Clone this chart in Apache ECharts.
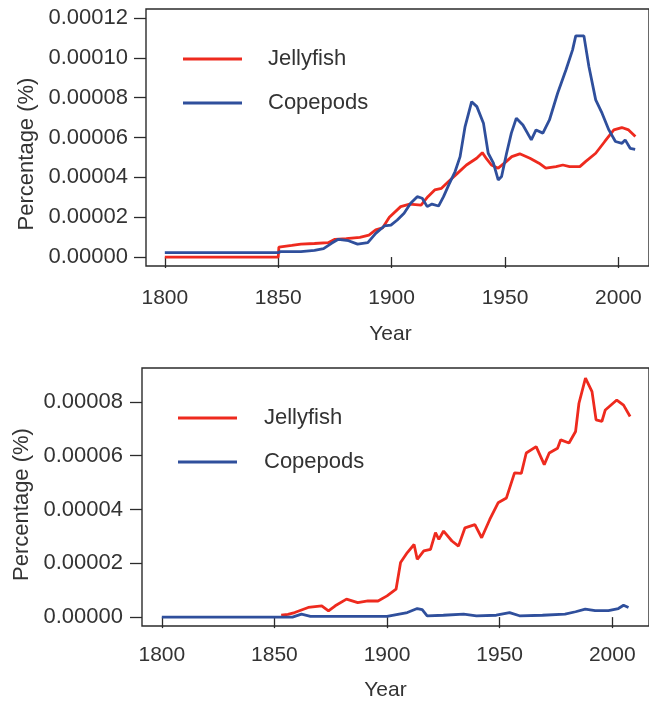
<!DOCTYPE html>
<html>
<head>
<meta charset="utf-8">
<script src="https://cdn.jsdelivr.net/npm/echarts@6/dist/echarts.min.js"></script>
<style>
html,body{margin:0;padding:0;background:#fff;}
#chart{width:649px;height:702px;}
</style>
</head>
<body>
<div id="chart"></div>
<script>
// ---- Data ----
var seriesNames = ['Jellyfish', 'Copepods'];
var xTicks = [1800, 1850, 1900, 1950, 2000];
var yTicksTop = [0, 0.00002, 0.00004, 0.00006, 0.00008, 0.00010, 0.00012];
var yTicksBottom = [0, 0.00002, 0.00004, 0.00006, 0.00008];

// Top panel: [year, percentage]
var topJellyfish = [
  [1800,0],[1850,0],[1850.3,0.000005],[1856,0.0000058],[1860,0.0000065],[1866,0.0000068],
  [1872,0.0000072],[1875,0.0000089],[1880,0.0000092],[1886,0.0000099],[1890,0.000011],
  [1893,0.0000136],[1896,0.0000146],[1899,0.00002],[1904,0.0000253],[1908,0.0000266],
  [1913,0.0000261],[1916,0.0000303],[1919,0.0000337],[1922,0.0000345],[1925,0.0000378],
  [1929,0.000042],[1933,0.0000462],[1937.5,0.0000496],[1940,0.0000524],[1942,0.0000491],
  [1944,0.0000462],[1947,0.0000446],[1950,0.0000474],[1953,0.0000504],[1956.5,0.0000518],
  [1961,0.0000496],[1965,0.0000471],[1968,0.0000446],[1972.5,0.0000454],[1975.5,0.0000462],
  [1978.5,0.0000454],[1983,0.0000454],[1985.5,0.0000479],[1990,0.0000521],[1994,0.000058],
  [1998,0.0000638],[2001.5,0.000065],[2004.5,0.0000638],[2007.5,0.0000605]
];
var topCopepods = [
  [1800,0.0000022],[1850,0.0000022],[1851,0.0000027],[1860,0.0000027],[1866,0.0000033],
  [1870,0.0000042],[1873.5,0.0000069],[1876.5,0.0000089],[1881,0.0000082],[1885,0.0000065],
  [1889.5,0.0000072],[1893,0.0000119],[1896.8,0.0000156],[1899.7,0.000016],[1902.5,0.0000186],
  [1905.5,0.000022],[1908.4,0.000027],[1911.3,0.0000303],[1913.5,0.0000295],[1915.7,0.0000253],
  [1917.8,0.0000266],[1920.7,0.0000256],[1922.9,0.0000303],[1925.2,0.0000362],[1928,0.0000429],
  [1930.2,0.0000504],[1932.4,0.0000655],[1935.3,0.000078],[1937.6,0.0000755],[1940.5,0.0000672],
  [1942.6,0.0000521],[1944.9,0.0000471],[1947,0.0000387],[1948.5,0.0000404],[1950.7,0.0000521],
  [1952.8,0.0000622],[1955,0.0000697],[1957.9,0.0000663],[1961.6,0.0000588],[1963.7,0.0000638],
  [1966.7,0.0000622],[1969.6,0.0000688],[1973.2,0.0000822],[1976.9,0.000094],[1979.8,0.000104],
  [1981.2,0.000111],[1984.8,0.000111],[1987,0.0000956],[1990,0.0000789],[1992.8,0.0000722],
  [1995.8,0.0000638],[1998.7,0.000058],[2001.6,0.0000571],[2003,0.0000588],[2005.2,0.0000546],
  [2007.4,0.0000541]
];

// Bottom panel: [year, percentage]
var bottomJellyfish = [
  [1853,0.0000007],[1856,0.000001],[1859,0.0000017],[1865,0.0000036],[1871,0.0000042],
  [1874,0.0000023],[1877,0.0000042],[1882,0.0000067],[1887,0.0000054],[1891.5,0.000006],
  [1896,0.000006],[1900,0.0000079],[1904,0.0000104],[1906,0.0000203],[1909,0.000024],
  [1912,0.000027],[1913.4,0.0000215],[1916.3,0.0000246],[1919.3,0.0000252],[1921.5,0.0000314],
  [1923,0.0000289],[1925.1,0.000032],[1928.8,0.0000283],[1931.7,0.0000264],[1934.6,0.0000332],
  [1939,0.0000344],[1942,0.0000295],[1945.6,0.0000363],[1949.3,0.0000425],[1953,0.0000443],
  [1956.6,0.0000536],[1959.6,0.0000534],[1961.8,0.000061],[1966.2,0.0000634],[1969.8,0.0000567],
  [1972,0.000061],[1975.7,0.0000628],[1977.1,0.0000659],[1980.8,0.0000647],[1983.7,0.000069],
  [1985.2,0.0000795],[1988.1,0.0000888],[1991,0.0000838],[1992.8,0.0000733],[1995.4,0.0000728],
  [1996.9,0.000077],[2002,0.0000807],[2005,0.0000788],[2007.9,0.0000746]
];
var bottomCopepods = [
  [1800,0],[1858,0],[1862,0.0000011],[1866,0.0000003],[1900,0.0000003],[1909,0.0000017],
  [1913.4,0.0000032],[1915.6,0.0000028],[1917.8,0.0000005],[1925,0.0000007],[1934,0.0000011],
  [1939.7,0.0000005],[1948.5,0.0000007],[1954.4,0.0000017],[1958.8,0.0000005],[1969,0.0000007],
  [1979,0.0000011],[1983.7,0.000002],[1988,0.000003],[1992.4,0.0000024],[1998.3,0.0000024],
  [2002.7,0.0000032],[2005,0.0000044],[2007.2,0.0000036]
];

// ---- Chart ----
var RED = '#ee2a1e';
var BLUE = '#2f4f9c';
var TXT = '#333333';
var FONT = '"Liberation Sans", Arial, Helvetica, sans-serif';

function xAxisFor(gridIndex, min, max, labelMargin, nameGap, namePadRight) {
  return {
    type: 'value', gridIndex: gridIndex, min: min, max: max,
    name: 'Year', nameLocation: 'middle', nameGap: nameGap,
    nameTextStyle: { fontFamily: FONT, fontSize: 21, color: TXT, padding: [0, namePadRight, 0, 0] },
    axisLine: { show: false },
    axisTick: { show: true, inside: false, length: 11, customValues: xTicks,
      lineStyle: { color: '#2b2b2b', width: 1.3 } },
    axisLabel: { show: true, margin: labelMargin, customValues: xTicks,
      fontFamily: FONT, fontSize: 21, color: TXT,
      formatter: function (v) { return String(v); } },
    splitLine: { show: false }
  };
}
function yAxisFor(gridIndex, min, max, ticks, labelMargin, nameGap, namePadRight) {
  return {
    type: 'value', gridIndex: gridIndex, min: min, max: max,
    name: 'Percentage (%)', nameLocation: 'middle', nameGap: nameGap, nameRotate: 90,
    nameTextStyle: { fontFamily: FONT, fontSize: 22, color: TXT, padding: [0, namePadRight, 0, 0] },
    axisLine: { show: false },
    axisTick: { show: true, inside: false, length: 12, customValues: ticks,
      lineStyle: { color: '#2b2b2b', width: 1.3 } },
    axisLabel: { show: true, margin: labelMargin, customValues: ticks,
      fontFamily: FONT, fontSize: 22, color: TXT,
      formatter: function (v) { return v.toFixed(5); } },
    splitLine: { show: false }
  };
}
function legendFor(left, top, padLeft) {
  return {
    orient: 'vertical', left: left, top: top, itemGap: 22,
    itemWidth: 59, itemHeight: 3, icon: 'rect',
    data: seriesNames, selectedMode: false,
    textStyle: { fontFamily: FONT, fontSize: 22, color: TXT, lineHeight: 22, padding: [0, 0, 0, padLeft] }
  };
}
function lineSeries(name, color, xi, data) {
  return {
    name: name, type: 'line', xAxisIndex: xi, yAxisIndex: xi, data: data,
    showSymbol: false, symbol: 'none', smooth: false, animation: false,
    lineStyle: { color: color, width: 2.8 }, itemStyle: { color: color },
    clip: true
  };
}

var chart = echarts.init(document.getElementById('chart'), null, { renderer: 'canvas' });
chart.setOption({
  backgroundColor: '#ffffff',
  animation: false,
  grid: [
    { left: 146, top: 9, right: -6, height: 257, show: true, borderColor: '#2b2b2b', borderWidth: 1.4, backgroundColor: 'transparent' },
    { left: 142, top: 368, right: -6, height: 259, show: true, borderColor: '#2b2b2b', borderWidth: 1.4, backgroundColor: 'transparent' }
  ],
  xAxis: [
    xAxisFor(0, 1791.7, 2013.5, 22, 58, 14),
    xAxisFor(1, 1791.2, 2016.3, 19, 54, 20)
  ],
  yAxis: [
    yAxisFor(0, -0.0000045, 0.0001245, yTicksTop, 18, 107, 33),
    yAxisFor(1, -0.0000033, 0.0000926, yTicksBottom, 19, 108, 15)
  ],
  legend: [
    legendFor(178, 43, 21),
    legendFor(173, 402, 22)
  ],
  series: [
    lineSeries('Jellyfish', RED, 0, topJellyfish),
    lineSeries('Copepods', BLUE, 0, topCopepods),
    lineSeries('Jellyfish', RED, 1, bottomJellyfish),
    lineSeries('Copepods', BLUE, 1, bottomCopepods)
  ]
});
</script>
</body>
</html>
